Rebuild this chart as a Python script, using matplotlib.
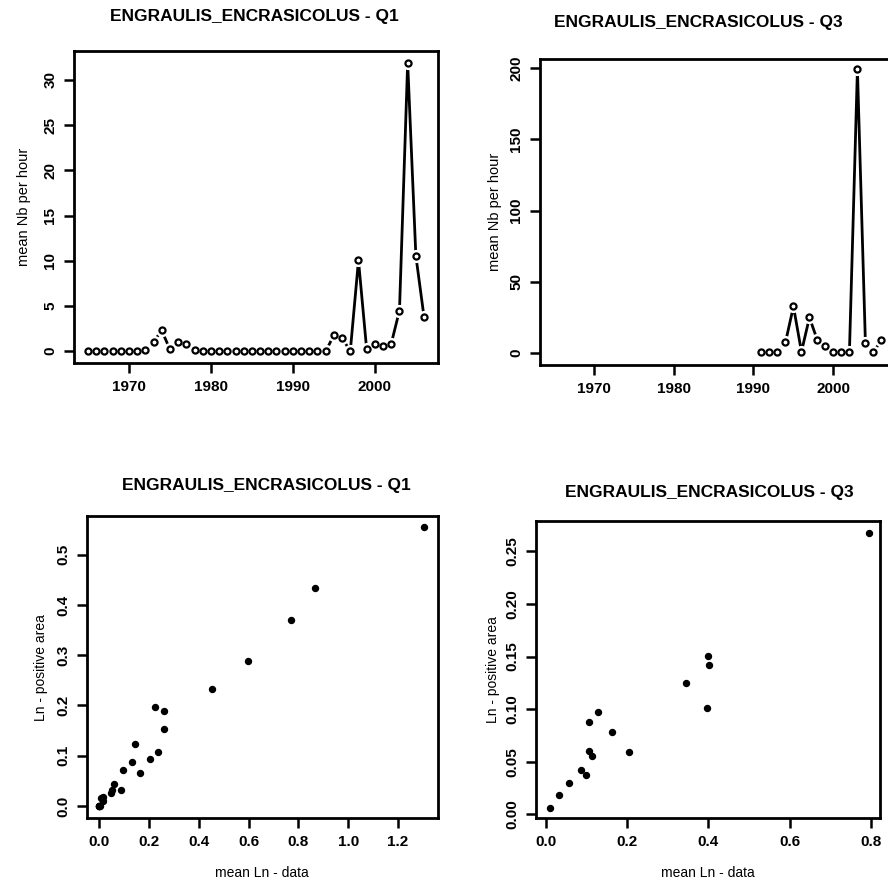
import matplotlib
matplotlib.use("Agg")
import matplotlib.pyplot as plt
import numpy as np

plt.rcParams['font.family'] = ['Liberation Sans', 'DejaVu Sans']

title_q1 = "ENGRAULIS_ENCRASICOLUS - Q1"
title_q3 = "ENGRAULIS_ENCRASICOLUS - Q3"

# Top-left: Q1 mean Nb per hour by year
years_q1 = list(range(1965, 2007))
nb_q1 = [0, 0, 0, 0, 0, 0, 0, 0.1, 1.03, 2.3, 0.2, 1.07, 0.77, 0.1,
         0, 0, 0, 0, 0, 0, 0, 0, 0, 0, 0, 0, 0, 0, 0, 0,
         1.77, 1.48, 0, 10.04, 0.2, 0.85, 0.6, 0.85, 4.5, 31.9, 10.55, 3.76]

# Top-right: Q3 mean Nb per hour by year
years_q3 = list(range(1991, 2007))
nb_q3 = [0.5, 0.5, 0.2, 7.3, 32.6, 0.7, 24.8, 8.7, 4.5, 0.5, 0.2, 0.5,
         199.3, 6.8, 0.5, 8.9]

# Bottom-left: Q1 mean Ln - data vs Ln - positive area
ln_data_q1 = [1.305, 0.867, 0.771, 0.596, 0.453, 0.225, 0.259, 0.259, 0.145,
              0.237, 0.205, 0.130, 0.095, 0.165, 0.060, 0.052, 0.046, 0.086,
              0.014, 0.006, 0.016, 0.003, 0.0, 0.0, 0.0, 0.0]
ln_pos_q1 = [0.555, 0.434, 0.370, 0.289, 0.232, 0.197, 0.189, 0.153, 0.123,
             0.107, 0.094, 0.088, 0.072, 0.066, 0.044, 0.032, 0.025, 0.032,
             0.017, 0.015, 0.010, -0.001, 0.0, 0.0, 0.0, 0.0]

# Bottom-right: Q3
ln_data_q3 = [0.796, 0.398, 0.401, 0.345, 0.397, 0.129, 0.107, 0.162, 0.204,
              0.105, 0.113, 0.085, 0.098, 0.057, 0.033, 0.010]
ln_pos_q3 = [0.268, 0.151, 0.142, 0.125, 0.101, 0.097, 0.088, 0.078, 0.059,
             0.060, 0.055, 0.042, 0.037, 0.030, 0.018, 0.006]

W = H = 888
fig = plt.figure(figsize=(8.88, 8.88), dpi=100)


def add_axes_px(left, right, top, bottom):
    return fig.add_axes([left / W, 1 - bottom / H, (right - left) / W, (bottom - top) / H])


def style(ax):
    for s in ax.spines.values():
        s.set_linewidth(2.0)
        s.set_color('black')
    ax.tick_params(direction='out', length=7, width=1.8, labelsize=11, pad=5)
    for lab in ax.get_yticklabels():
        lab.set_rotation(90)
        lab.set_va('center')
        lab.set_fontweight('bold')
    for lab in ax.get_xticklabels():
        lab.set_fontweight('bold')


def line_panel(ax, x, y):
    ax.plot(x, y, '-', color='black', lw=2.0, zorder=2)
    ax.plot(x, y, 'o', ms=9.5, mfc='white', mec='white', mew=0, zorder=3)
    ax.plot(x, y, 'o', ms=4.4, mfc='white', mec='black', mew=1.6, zorder=4)


# Top-left
ax1 = add_axes_px(74, 438, 51, 363)
line_panel(ax1, years_q1, nb_q1)
ax1.set_xlim(1963.3, 2007.7)
ax1.set_ylim(-1.3, 33.2)
ax1.set_xticks([1970, 1980, 1990, 2000])
ax1.set_yticks([0, 5, 10, 15, 20, 25, 30])
style(ax1)
ax1.set_ylabel("mean Nb per hour", fontsize=10.5, labelpad=9)
fig.text(254 / W, 1 - 16 / H, title_q1, ha='center', va='center',
         fontsize=12.5, fontweight='bold')

# Top-right
ax2 = add_axes_px(540, 895, 59, 365)
line_panel(ax2, years_q3, nb_q3)
ax2.set_xlim(1963.3, 2007.7)
ax2.set_ylim(-8.6, 206.5)
ax2.set_xticks([1970, 1980, 1990, 2000])
ax2.set_yticks([0, 50, 100, 150, 200])
style(ax2)
ax2.set_ylabel("mean Nb per hour", fontsize=10.5, labelpad=5)
fig.text(698 / W, 1 - 23 / H, title_q3, ha='center', va='center',
         fontsize=12.5, fontweight='bold')

# Bottom-left
ax3 = add_axes_px(86.7, 437.7, 516, 818.3)
ax3.plot(ln_data_q1, ln_pos_q1, 'o', ms=4.3, color='black')
ax3.set_xlim(-0.05, 1.359)
ax3.set_ylim(-0.0245, 0.577)
ax3.set_xticks([0.0, 0.2, 0.4, 0.6, 0.8, 1.0, 1.2])
ax3.set_xticklabels(["0.0", "0.2", "0.4", "0.6", "0.8", "1.0", "1.2"])
ax3.set_yticks([0.0, 0.1, 0.2, 0.3, 0.4, 0.5])
ax3.set_yticklabels(["0.0", "0.1", "0.2", "0.3", "0.4", "0.5"])
style(ax3)
ax3.set_xlabel("mean Ln - data", fontsize=10, labelpad=12)
ax3.set_ylabel("Ln - positive area", fontsize=10, labelpad=6)
fig.text(266 / W, 1 - 485 / H, title_q1, ha='center', va='center',
         fontsize=12.5, fontweight='bold')

# Bottom-right
ax4 = add_axes_px(536, 879.5, 521, 818.3)
ax4.plot(ln_data_q3, ln_pos_q3, 'o', ms=4.3, color='black')
ax4.set_xlim(-0.0246, 0.821)
ax4.set_ylim(-0.0039, 0.279)
ax4.set_xticks([0.0, 0.2, 0.4, 0.6, 0.8])
ax4.set_xticklabels(["0.0", "0.2", "0.4", "0.6", "0.8"])
ax4.set_yticks([0.0, 0.05, 0.10, 0.15, 0.20, 0.25])
ax4.set_yticklabels(["0.00", "0.05", "0.10", "0.15", "0.20", "0.25"])
style(ax4)
ax4.set_xlabel("mean Ln - data", fontsize=10, labelpad=12)
ax4.set_ylabel("Ln - positive area", fontsize=10, labelpad=4)
fig.text(709 / W, 1 - 492 / H, title_q3, ha='center', va='center',
         fontsize=12.5, fontweight='bold')

fig.savefig("out.png", dpi=100)
